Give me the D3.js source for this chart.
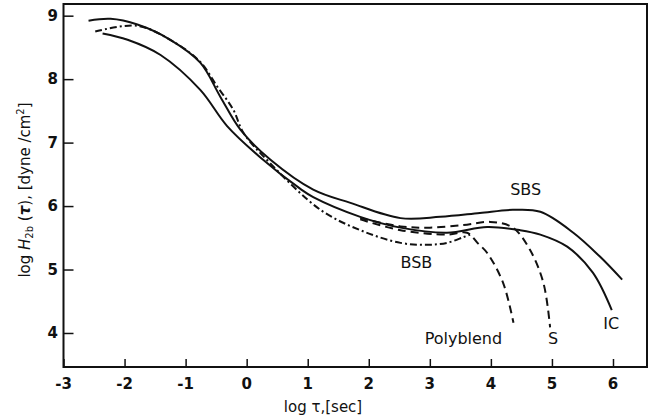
<!DOCTYPE html>
<html>
<head>
<meta charset="utf-8">
<script src="https://cdn.jsdelivr.net/npm/d3@7"></script>
<style>
  html, body { margin: 0; padding: 0; background: #fff; }
  svg text { font-family: "DejaVu Sans", sans-serif; fill: #111; }
</style>
</head>
<body>
<svg id="chart" width="655" height="420"></svg>
<script>
// log H2b(tau) vs log tau, five blends

const xTicks = [-3, -2, -1, 0, 1, 2, 3, 4, 5, 6];
const yTicks = [4, 5, 6, 7, 8, 9];

// [log tau, log H]
const sbs = [
  [-2.59, 8.92], [-2.23, 8.95], [-1.79, 8.86], [-1.25, 8.62], [-0.76, 8.26],
  [-0.43, 7.72], [-0.10, 7.20], [0.39, 6.73], [1.09, 6.26], [1.70, 6.05],
  [2.52, 5.81], [3.17, 5.83], [3.82, 5.89], [4.36, 5.94], [4.81, 5.91],
  [5.35, 5.58], [5.79, 5.20], [6.15, 4.84]
];
const ic = [
  [-2.36, 8.72], [-1.95, 8.62], [-1.41, 8.38], [-0.76, 7.83], [-0.32, 7.26],
  [0.22, 6.77], [0.88, 6.27], [1.09, 6.14], [1.86, 5.83], [2.52, 5.66],
  [3.28, 5.58], [3.94, 5.67], [4.48, 5.62], [4.81, 5.55], [5.25, 5.36],
  [5.67, 4.95], [5.98, 4.36]
];
const bsb = [
  [-2.48, 8.75], [-1.79, 8.84], [-1.20, 8.59], [-0.76, 8.27], [-0.48, 7.88],
  [-0.22, 7.52], [-0.05, 7.15], [0.40, 6.66], [1.21, 5.94], [1.86, 5.62],
  [2.52, 5.42], [2.96, 5.39], [3.28, 5.42], [3.55, 5.51], [3.66, 5.55]
];
const sCurve = [
  [1.86, 5.81], [2.52, 5.68], [3.00, 5.66], [3.55, 5.70], [3.99, 5.75],
  [4.36, 5.66], [4.64, 5.31], [4.86, 4.79], [4.97, 4.09]
];
const polyblend = [
  [1.86, 5.79], [2.52, 5.62], [3.28, 5.55], [3.61, 5.58], [3.78, 5.42],
  [3.94, 5.26], [4.20, 4.79], [4.37, 4.16]
];

const series = [
  { name: "SBS", data: sbs, dash: null },
  { name: "IC", data: ic, dash: null },
  { name: "BSB", data: bsb, dash: "7,3,2,3" },
  { name: "S", data: sCurve, dash: "8,5" },
  { name: "Polyblend", data: polyblend, dash: "8,5" }
];

const labels = [
  { text: "SBS", x: 4.57, y: 6.17 },
  { text: "BSB", x: 2.78, y: 5.02 },
  { text: "Polyblend", x: 3.55, y: 3.82 },
  { text: "S", x: 5.02, y: 3.82 },
  { text: "IC", x: 5.97, y: 4.06 }
];

const svg = d3.select("#chart");

const x = d3.scaleLinear().domain([-3, 6.557]).range([63.5, 647]);
const y = d3.scaleLinear().domain([3.464, 9.184]).range([367, 4]);

// frame
svg.append("rect")
  .attr("x", x.range()[0]).attr("y", y.range()[1])
  .attr("width", x.range()[1] - x.range()[0])
  .attr("height", y.range()[0] - y.range()[1])
  .attr("fill", "none").attr("stroke", "#111").attr("stroke-width", 2);

// x axis: inward ticks
const xAxis = svg.append("g")
  .attr("transform", `translate(0,${y.range()[0]})`)
  .call(d3.axisTop(x).tickValues(xTicks).tickSize(8).tickFormat(""));
xAxis.select(".domain").remove();
xAxis.selectAll("line").attr("stroke", "#111").attr("stroke-width", 1.5);

svg.append("g").selectAll("text").data(xTicks).join("text")
  .attr("x", (d) => x(d))
  .attr("y", 389)
  .attr("text-anchor", "middle")
  .attr("font-size", 15)
  .attr("font-weight", "bold")
  .text((d) => (d < 0 ? "-" + Math.abs(d) : d));

// y axis: inward ticks
const yAxis = svg.append("g")
  .attr("transform", `translate(${x.range()[0]},0)`)
  .call(d3.axisRight(y).tickValues(yTicks).tickSize(10).tickFormat(""));
yAxis.select(".domain").remove();
yAxis.selectAll("line").attr("stroke", "#111").attr("stroke-width", 1.5);

svg.append("g").selectAll("text").data(yTicks).join("text")
  .attr("x", 58)
  .attr("y", (d) => y(d) + 5)
  .attr("text-anchor", "end")
  .attr("font-size", 15)
  .attr("font-weight", "bold")
  .text((d) => d);

// curves
const line = d3.line()
  .x((d) => x(d[0]))
  .y((d) => y(d[1]))
  .curve(d3.curveCatmullRom.alpha(0.5));

svg.append("g").selectAll("path").data(series).join("path")
  .attr("d", (d) => line(d.data))
  .attr("fill", "none")
  .attr("stroke", "#111")
  .attr("stroke-width", 2)
  .attr("stroke-dasharray", (d) => d.dash);

// curve labels
svg.append("g").selectAll("text").data(labels).join("text")
  .attr("x", (d) => x(d.x))
  .attr("y", (d) => y(d.y))
  .attr("text-anchor", "middle")
  .attr("font-size", 16)
  .text((d) => d.text);

// axis titles
const xt = svg.append("text")
  .attr("x", 323).attr("y", 412)
  .attr("text-anchor", "middle")
  .attr("font-size", 15);
xt.append("tspan").text("log τ,[sec]");

const yt = svg.append("text")
  .attr("transform", "translate(30,190) rotate(-90)")
  .attr("text-anchor", "middle")
  .attr("font-size", 15);
yt.append("tspan").text("log ");
yt.append("tspan").attr("font-style", "italic").text("H");
yt.append("tspan").attr("font-size", 10).attr("dy", 3).text("2b");
yt.append("tspan").attr("dy", -3).text(" (");
yt.append("tspan").attr("font-weight", "bold").attr("font-style", "italic").text("τ");
yt.append("tspan").text("), [dyne /cm");
yt.append("tspan").attr("font-size", 10).attr("dy", -6).text("2");
yt.append("tspan").attr("dy", 6).text("]");
</script>
</body>
</html>
